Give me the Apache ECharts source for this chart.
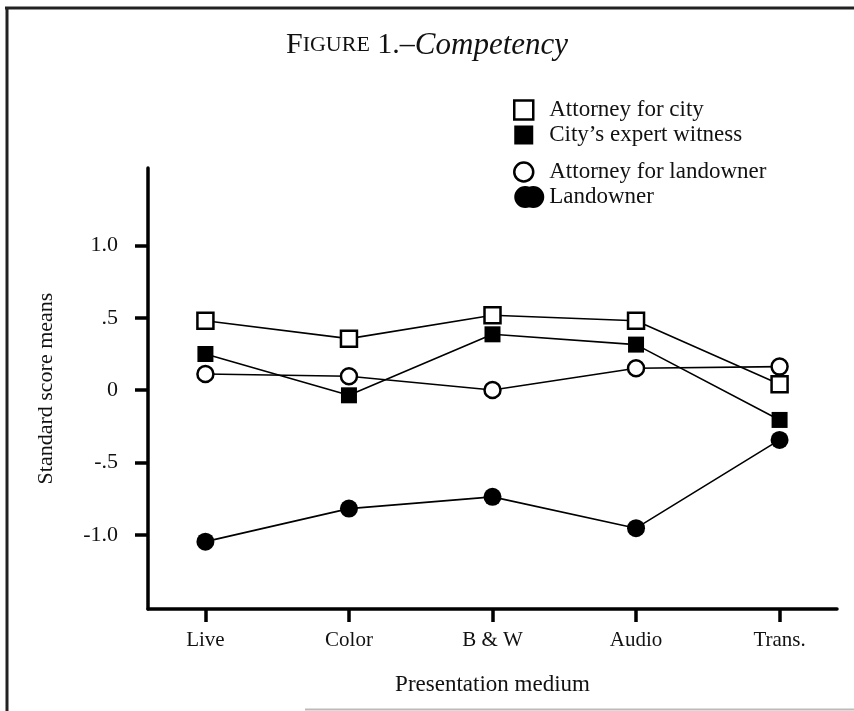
<!DOCTYPE html>
<html><head><meta charset="utf-8">
<script src="https://cdn.jsdelivr.net/npm/echarts@6/dist/echarts.min.js"></script>
<style>html,body{margin:0;padding:0;background:#fff}#c{width:854px;height:711px}</style>
</head><body><div id="c"></div>
<script>
// ---- data ----
const categories = ['Live', 'Color', 'B & W', 'Audio', 'Trans.'];
const seriesNames = ['Attorney for city', "City\u2019s expert witness", 'Attorney for landowner', 'Landowner'];
const attorneyForCity = [0.48, 0.356, 0.518, 0.48, 0.041];
const citysExpertWitness = [0.25, -0.035, 0.386, 0.315, -0.205];
const attorneyForLandowner = [0.112, 0.097, 0.002, 0.152, 0.163];
const landowner = [-1.045, -0.817, -0.736, -0.952, -0.343];
const yTickValues = [-1, -0.5, 0, 0.5, 1];
const yTickLabels = ['-1.0', '-.5', '0', '.5', '1.0'];
const xTickValues = [0, 1, 2, 3, 4];

const FONT = '"Liberation Serif", "Times New Roman", serif';
const toPts = arr => arr.map((v, i) => [i, v]);

const openStyle = { color: '#fff', borderColor: '#000', borderWidth: 2.5 };
const fillStyle = { color: '#000', borderColor: '#000', borderWidth: 0 };
const lineStyle = { color: '#000', width: 1.6 };

const iconOpenSquare = 'path://M0,0h19v19h-19zM30,9.5';
const iconOpenCircle = 'path://M0,9.5a9.5,9.5 0 1,0 19,0a9.5,9.5 0 1,0 -19,0zM30,9.5';
const iconBlob = 'path://M0,11a11,11 0 1,0 22,0a11,11 0 1,0 -22,0zM8,11a11,11 0 1,0 22,0a11,11 0 1,0 -22,0z';

const chart = echarts.init(document.getElementById('c'), null, { renderer: 'canvas' });
chart.setOption({
  animation: false,
  backgroundColor: '#fff',
  title: {
    text: '{a|F}{b|IGURE}{a| 1.\u2013}{c|Competency}',
    left: 'center', top: 30, padding: 0,
    textStyle: {
      fontWeight: 'normal',
      rich: {
        a: { fontFamily: FONT, fontSize: 30, fontWeight: 'normal', color: '#111' },
        b: { fontFamily: FONT, fontSize: 22, fontWeight: 'normal', color: '#111' },
        c: { fontFamily: FONT, fontSize: 31, fontWeight: 'normal', fontStyle: 'italic', color: '#111' }
      }
    }
  },
  legend: [{
    orient: 'vertical', left: 513, top: 98.5, padding: 0, itemGap: 2,
    itemWidth: 30, itemHeight: 19,
    textStyle: { fontFamily: FONT, fontSize: 23, color: '#111' },
    data: [
      { name: seriesNames[0], icon: iconOpenSquare, itemStyle: { color: '#fff', borderColor: '#000', borderWidth: 2.5 } },
      { name: seriesNames[1], icon: 'path://M0,0h19v19h-19zM30,9.5', itemStyle: { color: '#000', borderWidth: 0 } }
    ]
  }, {
    orient: 'vertical', left: 513, top: 160.5, padding: 0, itemGap: 2,
    itemWidth: 30, itemHeight: 22,
    textStyle: { fontFamily: FONT, fontSize: 23, color: '#111' },
    data: [
      { name: seriesNames[2], icon: iconOpenCircle, itemStyle: { color: '#fff', borderColor: '#000', borderWidth: 2.5 } },
      { name: seriesNames[3], icon: iconBlob, itemStyle: { color: '#000', borderWidth: 0 } }
    ]
  }],
  grid: { left: 148, right: 17, top: 168, bottom: 102, containLabel: false },
  xAxis: {
    type: 'value', min: -0.4, max: 4.4,
    name: 'Presentation medium', nameLocation: 'middle', nameGap: 64,
    nameTextStyle: { fontFamily: FONT, fontSize: 23, color: '#111' },
    axisLine: { show: true, onZero: false, lineStyle: { color: '#000', width: 3.5 } },
    axisTick: { show: true, customValues: xTickValues, length: 13, lineStyle: { color: '#000', width: 3.5 } },
    axisLabel: { customValues: xTickValues, margin: 21, fontFamily: FONT, fontSize: 21, color: '#111',
      formatter: v => categories[Math.round(v)] },
    splitLine: { show: false }
  },
  yAxis: {
    type: 'value', min: -1.51, max: 1.534,
    name: 'Standard score means', nameLocation: 'middle', nameRotate: 90, nameGap: 91,
    nameTextStyle: { fontFamily: FONT, fontSize: 22, color: '#111' },
    axisLine: { show: true, onZero: false, lineStyle: { color: '#000', width: 3.5 } },
    axisTick: { show: true, customValues: yTickValues, length: 13, lineStyle: { color: '#000', width: 3.5 } },
    axisLabel: { customValues: yTickValues, margin: 30, fontFamily: FONT, fontSize: 22, color: '#111',
      formatter: v => yTickLabels[yTickValues.indexOf(Math.round(v * 2) / 2)] },
    splitLine: { show: false }
  },
  series: [
    { name: seriesNames[0], type: 'line', data: toPts(attorneyForCity), symbol: 'rect', symbolSize: 16,
      itemStyle: openStyle, lineStyle, z: 3 },
    { name: seriesNames[1], type: 'line', data: toPts(citysExpertWitness), symbol: 'rect', symbolSize: 16,
      itemStyle: fillStyle, lineStyle, z: 3 },
    { name: seriesNames[2], type: 'line', data: toPts(attorneyForLandowner), symbol: 'circle', symbolSize: 16,
      itemStyle: openStyle, lineStyle, z: 3 },
    { name: seriesNames[3], type: 'line', data: toPts(landowner), symbol: 'circle', symbolSize: 18,
      itemStyle: fillStyle, lineStyle, z: 3 }
  ],
  graphic: [
    { type: 'line', shape: { x1: 5, y1: 8, x2: 854, y2: 8 }, style: { stroke: '#222', lineWidth: 3 }, silent: true },
    { type: 'line', shape: { x1: 7, y1: 7, x2: 7, y2: 711 }, style: { stroke: '#222', lineWidth: 3 }, silent: true },
    { type: 'line', shape: { x1: 305, y1: 709.5, x2: 854, y2: 709.5 }, style: { stroke: '#bbb', lineWidth: 2 }, silent: true }
  ]
});
</script>
</body></html>
